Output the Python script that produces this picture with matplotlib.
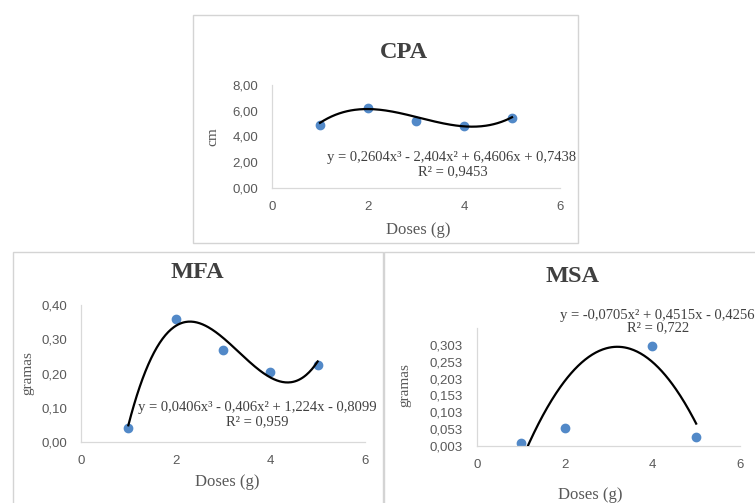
"""
Trend line panels for CPA, MFA and MSA against doses
"""

import numpy as np
from matplotlib import pyplot as plt
from matplotlib.patches import Rectangle

W, H = 755, 503

# data
cpa_x = [1, 2, 3, 4, 5]
cpa_y = [4.9, 6.2, 5.2, 4.8, 5.4]
cpa_coef = [0.2604, -2.404, 6.4606, 0.7438]

mfa_x = [1, 2, 3, 4, 5]
mfa_y = [0.042, 0.36, 0.268, 0.205, 0.224]
mfa_coef = [0.0406, -0.406, 1.224, -0.8099]

msa_x = [1, 2, 4, 5]
msa_y = [0.013, 0.057, 0.300, 0.031]
msa_coef = [-0.0705, 0.4515, -0.4256]

cpa_yticks = [0, 2, 4, 6, 8]
cpa_ylabels = ["0,00", "2,00", "4,00", "6,00", "8,00"]
mfa_yticks = [0, 0.1, 0.2, 0.3, 0.4]
mfa_ylabels = ["0,00", "0,10", "0,20", "0,30", "0,40"]
msa_yticks = [0.003, 0.053, 0.103, 0.153, 0.203, 0.253, 0.303]
msa_ylabels = ["0,003", "0,053", "0,103", "0,153", "0,203", "0,253", "0,303"]
x_ticks = [0, 2, 4, 6]

BLUE = "#5289c8"
GRAY = "#595959"
SERIF = "Liberation Serif"
SANS = "Liberation Sans"


def px(x, y):
    return x / W, 1 - y / H


def axes_box(left, right, top, bottom):
    x0, y0 = px(left, bottom)
    return [x0, y0, (right - left) / W, (bottom - top) / H]


def panel(fig, rect, xs, ys, coef, ylim, yticks, ylabels):
    ax = fig.add_axes(rect)
    xx = np.linspace(1, 5, 200)
    ax.plot(xs, ys, "o", color=BLUE, markersize=6, zorder=2)
    ax.plot(xx, np.polyval(coef, xx), color="black", lw=1.6, zorder=3)
    ax.set_xlim(0, 6)
    ax.set_ylim(*ylim)
    ax.set_xticks(x_ticks)
    ax.set_xticklabels([str(t) for t in x_ticks])
    ax.set_yticks(yticks)
    ax.set_yticklabels(ylabels)
    for s in ("top", "right"):
        ax.spines[s].set_visible(False)
    for s in ("left", "bottom"):
        ax.spines[s].set_color("#d9d9d9")
        ax.spines[s].set_linewidth(0.9)
    ax.tick_params(length=0, labelsize=9.5, labelcolor=GRAY)
    ax.tick_params(axis="y", pad=10)
    ax.tick_params(axis="x", pad=9)
    for lab in ax.get_xticklabels() + ax.get_yticklabels():
        lab.set_fontfamily(SANS)
    ax.patch.set_alpha(0)
    return ax


fig = plt.figure(figsize=(W / 100, H / 100), dpi=100)

# panel frames
for (l, t, r, b) in [(193, 15, 578, 243), (13, 252, 383, 520), (384, 252, 770, 520)]:
    x0, y0 = px(l, b)
    fig.patches.append(Rectangle((x0, y0), (r - l) / W, (b - t) / H,
                                 transform=fig.transFigure, fill=False,
                                 edgecolor="#d4d4d4", lw=1))

panel(fig, axes_box(272, 560, 85, 188), cpa_x, cpa_y, cpa_coef,
      (0, 8), cpa_yticks, cpa_ylabels)
panel(fig, axes_box(81, 365, 305, 442), mfa_x, mfa_y, mfa_coef,
      (0, 0.4), mfa_yticks, mfa_ylabels)
panel(fig, axes_box(477, 740, 328, 446), msa_x, msa_y, msa_coef,
      (0.003, 0.353), msa_yticks, msa_ylabels)

title_kw = dict(fontfamily=SERIF, fontweight="bold", fontsize=17.5,
                color="#404040", ha="center", va="center")
fig.text(*px(404, 53), "CPA", **title_kw)
fig.text(*px(197, 273), "MFA", **title_kw)
fig.text(*px(573, 277), "MSA", **title_kw)

lab_kw = dict(fontfamily=SERIF, fontsize=12, color=GRAY, ha="center", va="center")
fig.text(*px(418, 230), "Doses (g)", **lab_kw)
fig.text(*px(227, 482), "Doses (g)", **lab_kw)
fig.text(*px(590, 495), "Doses (g)", **lab_kw)

ylab_kw = dict(fontfamily=SERIF, fontsize=11, color=GRAY, ha="center",
               va="center", rotation=90)
fig.text(*px(213, 137), "cm", **ylab_kw)
fig.text(*px(28, 373), "gramas", **ylab_kw)
fig.text(*px(405, 385), "gramas", **ylab_kw)

eq_kw = dict(fontfamily=SERIF, fontsize=10.5, color="#404040", va="center")
fig.text(*px(452, 157), "y = 0,2604x³ - 2,404x² + 6,4606x + 0,7438", ha="center", **eq_kw)
fig.text(*px(453, 172), "R² = 0,9453", ha="center", **eq_kw)
fig.text(*px(257, 408), "y = 0,0406x³ - 0,406x² + 1,224x - 0,8099", ha="center", **eq_kw)
fig.text(*px(257, 422), "R² = 0,959", ha="center", **eq_kw)
fig.text(*px(560, 315), "y = -0,0705x² + 0,4515x - 0,4256", ha="left", **eq_kw)
fig.text(*px(658, 328), "R² = 0,722", ha="center", **eq_kw)

fig.savefig("out.png", dpi=100)
